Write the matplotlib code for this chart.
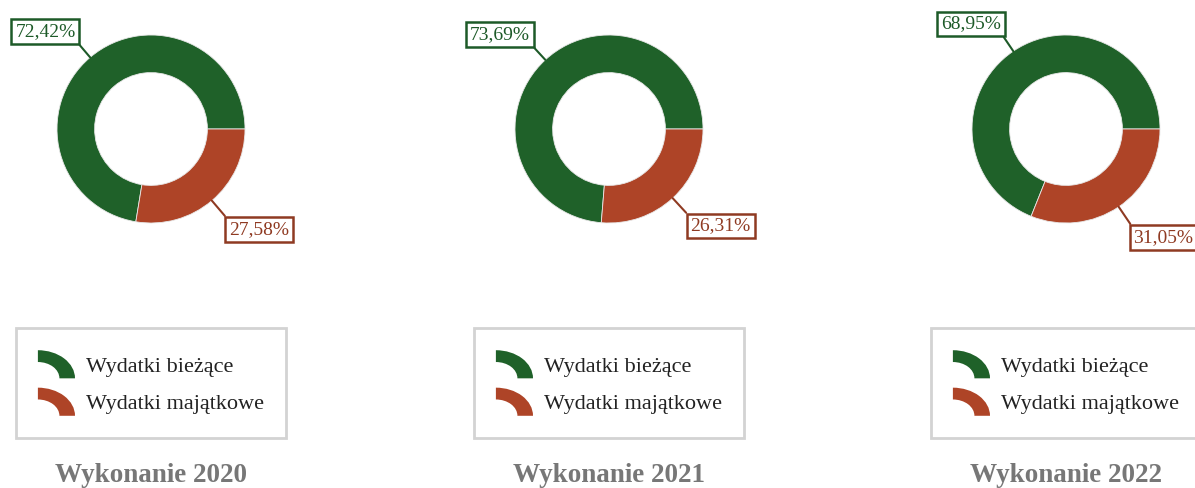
import matplotlib.pyplot as plt
import matplotlib.patches as mpatches
import matplotlib.transforms as mtransforms
from matplotlib.legend_handler import HandlerPatch
import numpy as np

plt.rcParams['font.family'] = ['Liberation Serif', 'DejaVu Serif']

# data
years = ['2020', '2021', '2022']
categories = ['Wydatki bieżące', 'Wydatki majątkowe']
biezace = [72.42, 73.69, 68.95]
majatkowe = [27.58, 26.31, 31.05]

colors = ['#1f6129', '#ae4427']
label_colors = ['#1d5a28', '#8f3a22']

W, H = 1195, 488
fig = plt.figure(figsize=(W / 100, H / 100), dpi=100)

centers_x = [151, 609, 1066]
center_y = 129
R = 94


class HandlerArc(HandlerPatch):
    def create_artists(self, legend, orig_handle, xdescent, ydescent,
                       width, height, fontsize, trans):
        p = mpatches.Wedge((0, 0), 1, 0, 90, width=0.42)
        p.set_facecolor(orig_handle.get_facecolor())
        p.set_edgecolor('none')
        t = mtransforms.Affine2D().scale(width, height).translate(-xdescent, -ydescent)
        p.set_transform(t + trans)
        return [p]


def fmt(v):
    return f'{v:.2f}'.replace('.', ',') + '%'


for i, yr in enumerate(years):
    cx = centers_x[i]
    ax = fig.add_axes([(cx - R) / W, (H - center_y - R) / H, 2 * R / W, 2 * R / H])
    vals = [biezace[i], majatkowe[i]]
    wedges, _ = ax.pie(vals, colors=colors, startangle=0, counterclock=True,
                       radius=1, wedgeprops=dict(width=0.4, edgecolor='#e8e8e8', linewidth=0.6))
    ax.set_xlim(-1, 1)
    ax.set_ylim(-1, 1)
    ax.set_aspect('equal')

    # labels with leader lines
    start = 0
    for j, v in enumerate(vals):
        ang = np.deg2rad(start + v * 3.6 / 2)
        start += v * 3.6
        x0, y0 = np.cos(ang), np.sin(ang)
        if x0 < 0:
            r1, ha, va, rel = 1.24, 'right', 'bottom', (1, 0)
        else:
            r1, ha, va, rel = 1.28, 'left', 'top', (0, 1)
        ax.annotate(fmt(v), xy=(x0, y0), xytext=(r1 * x0, r1 * y0),
                    textcoords='data', ha=ha, va=va, fontsize=14,
                    color=label_colors[j],
                    bbox=dict(boxstyle='square,pad=0.2', fc='white',
                              ec=label_colors[j], lw=1.8),
                    arrowprops=dict(arrowstyle='-', color=label_colors[j], lw=1.5,
                                    shrinkA=0, shrinkB=0, relpos=rel),
                    annotation_clip=False)

    leg = ax.legend(wedges, categories, loc='center',
                    bbox_to_anchor=(cx / W, 1 - 383 / H),
                    bbox_transform=fig.transFigure,
                    frameon=True, fancybox=False, edgecolor='#c8c8c8',
                    fontsize=16, handlelength=1.67, handleheight=1.57,
                    handletextpad=0.5, labelspacing=0.42, borderpad=1.0,
                    handler_map={mpatches.Wedge: HandlerArc()})
    leg.get_frame().set_linewidth(2)
    for t in leg.get_texts():
        t.set_color('#222222')

    fig.text(cx / W, 1 - 476 / H, 'Wykonanie ' + yr, ha='center', va='center',
             fontsize=19.5, fontweight='bold', color='#777777')

fig.savefig('out.png', dpi=100, facecolor='white')
